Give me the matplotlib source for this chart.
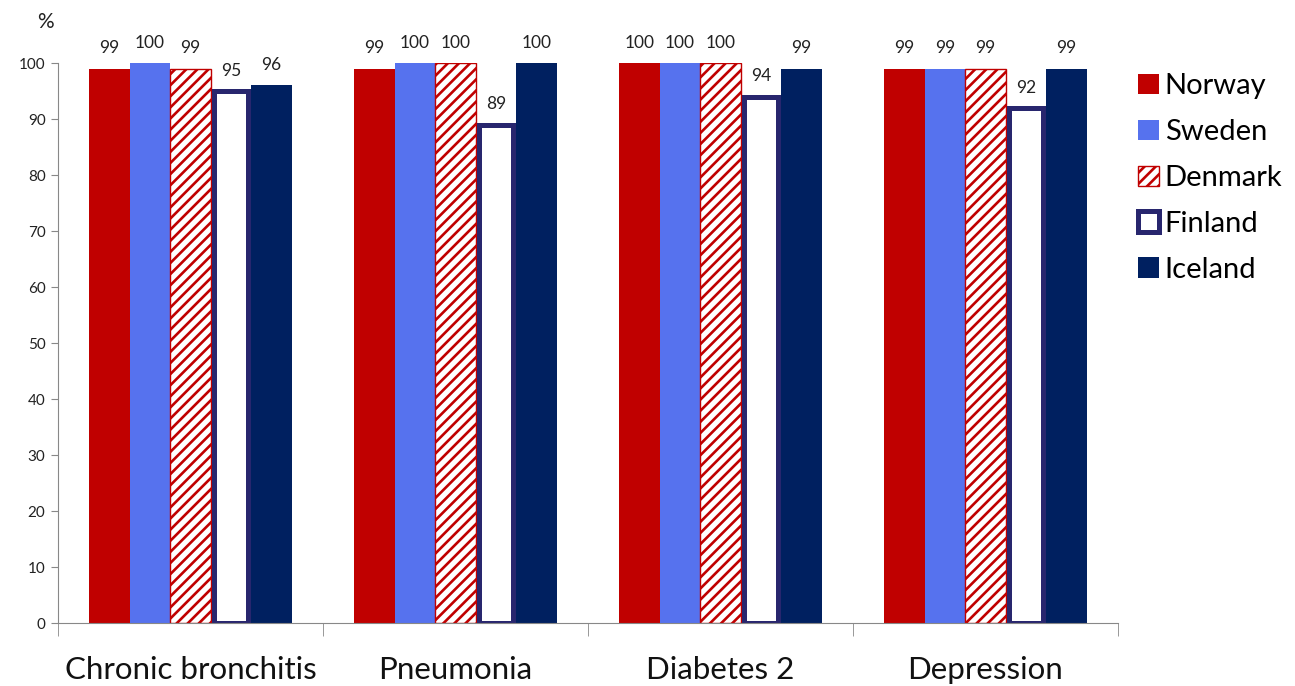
import numpy as np
import matplotlib
matplotlib.use('Agg')
from matplotlib import pyplot as plt

plt.rcParams['font.family'] = ['Lato', 'DejaVu Sans']
plt.rcParams['hatch.linewidth'] = 1.9

categories = ['Chronic bronchitis', 'Pneumonia', 'Diabetes 2', 'Depression']
countries = ['Norway', 'Sweden', 'Denmark', 'Finland', 'Iceland']
norway = [99, 99, 100, 99]
sweden = [100, 100, 100, 99]
denmark = [99, 100, 100, 99]
finland = [95, 89, 94, 92]
iceland = [96, 100, 99, 99]
yticks = list(range(0, 101, 10))

series = [norway, sweden, denmark, finland, iceland]

styles = [
    dict(color='#C00000'),
    dict(color='#5672EE'),
    dict(facecolor='white', edgecolor='#C00000', hatch='///', linewidth=1.0),
    dict(facecolor='white', edgecolor='#28266E', linewidth=3.6),
    dict(color='#002060'),
]

fig = plt.figure(figsize=(12.95, 6.86), dpi=100)
ax = fig.add_axes([0.0448, 0.0918, 0.8185, 0.8163])

x = np.arange(len(categories))
width = 0.153
handles = []
for i, (name, vals, st) in enumerate(zip(countries, series, styles)):
    pos = x + (i - 2) * width
    bw = width if i != 3 else width - 0.022
    bars = ax.bar(pos, vals, bw, label=name, **st)
    handles.append(bars)
    for p, v in zip(pos, vals):
        ax.text(p, v + 2.2, str(v), ha='center', va='bottom', fontsize=12.5,
                color='#222222')

ax.set_xlim(-0.5, len(categories) - 0.5)
ax.set_ylim(0, 100)
ax.set_yticks(yticks)
ax.tick_params(axis='y', labelsize=11, length=5, color='#888888', pad=4,
               labelcolor='#222222')
ax.set_xticks(x)
ax.set_xticklabels(categories, fontsize=22.5, color='#111111')
ax.set_xticks(np.arange(-0.5, len(categories)), minor=True)
ax.tick_params(axis='x', which='major', length=0, pad=24)
ax.tick_params(axis='x', which='minor', length=9, color='#888888')
for s in ['top', 'right']:
    ax.spines[s].set_visible(False)
ax.spines['left'].set_color('#888888')
ax.spines['bottom'].set_color('#888888')

fig.text(0.035, 0.968, '%', fontsize=15, ha='center', va='center', color='#222222')

leg = fig.legend(handles=handles, labels=countries, loc='upper left',
                 bbox_to_anchor=(0.870, 0.91), frameon=False, fontsize=21,
                 handlelength=0.7, handleheight=0.7, handletextpad=0.2,
                 labelspacing=0.68, borderaxespad=0)

fig.savefig('out.png', dpi=100)
